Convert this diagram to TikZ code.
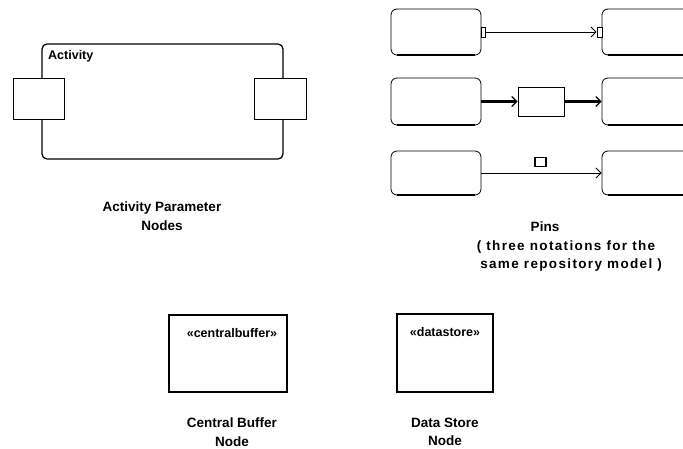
\documentclass[tikz,border=0pt]{standalone}
\usepackage{fontspec}
\setmainfont{Liberation Sans}
\usetikzlibrary{arrows.meta}
\begin{document}
\begin{tikzpicture}[x=1pt,y=-1pt,
  lbl/.style={font=\bfseries\fontsize{13.5}{18.5}\selectfont, align=center, inner sep=0},
  small/.style={font=\bfseries\fontsize{12.5}{14}\selectfont, inner sep=0},
  actbox/.style={draw, line width=1.3pt, rounded corners=5pt, inner sep=0},
  parbox/.style={draw, fill=white, line width=0.9pt, inner sep=0},
  pinact/.style={draw, line width=0.8pt, rounded corners=6pt, inner sep=0, minimum width=90pt, minimum height=46pt},
  shadowline/.style={line width=2.2pt},
  pin/.style={draw, fill=white, line width=0.9pt, inner sep=0},
  flow/.style={line width=0.9pt, -{Straight Barb[length=5pt,width=10pt]}},
  thickflow/.style={line width=2.6pt, -{Straight Barb[length=5pt,width=10pt,line width=1.2pt]}},
  store/.style={draw, line width=1.6pt, inner sep=0}
]
\useasboundingbox (0,0) rectangle (683,449);
\clip (0,0) rectangle (683,449);

% Activity with parameter nodes
\node[actbox, minimum width=241pt, minimum height=115pt] (act) at (162.5,101.5) {};
\node[small, anchor=base west] (actlbl) at (48,60) {Activity};
\node[parbox, minimum width=51pt, minimum height=41pt] (pin1) at (38.5,98.5) {};
\node[parbox, minimum width=52pt, minimum height=41pt] (pin2) at (280,98.5) {};
\node[lbl] (aplbl) at (162,216) {Activity Parameter\\Nodes};

% Pins row 1
\node[pinact] (a1) at (436,32) {};
\node[pinact, minimum width=98pt] (b1) at (651,32) {};
\node[pin, minimum width=4pt, minimum height=10pt] (p1) at (483,32) {};
\node[pin, minimum width=5pt, minimum height=10pt] (q1) at (599.5,32) {};
\draw[flow] (p1.east) -- (q1.west);

% Pins row 2
\node[pinact, minimum height=47pt] (a2) at (436,101.5) {};
\node[pinact, minimum height=47pt, minimum width=98pt] (b2) at (651,101.5) {};
\node[pin, minimum width=46pt, minimum height=29pt] (ob) at (541,101.5) {};
\draw[thickflow] (a2.east) -- (ob.west);
\draw[thickflow] (ob.east) -- (b2.west);

% Pins row 3
\node[pinact, minimum height=44pt] (a3) at (436,173) {};
\node[pinact, minimum height=44pt, minimum width=98pt] (b3) at (651,173) {};
\node[pin, line width=1.3pt, minimum width=11pt, minimum height=9pt] (sq) at (540.5,162) {};
\draw[flow] (a3.east) -- (b3.west);

% thicker bottom edges
\foreach \n in {a1,b1,a2,b2,a3,b3}{
  \draw[shadowline] ([xshift=6pt,yshift=0.3pt]\n.south west) -- ([xshift=-6pt,yshift=0.3pt]\n.south east);
}

\node[lbl] (pinslbl) at (566,247) {Pins\hspace*{42pt}\\\addfontfeature{LetterSpace=10}( three notations for the\\\addfontfeature{LetterSpace=10}\ \ same repository model )};

% Central buffer and data store
\node[store, minimum width=118pt, minimum height=77pt] (cb) at (228,353.5) {};
\node[small] (cbt) at (232,333) {«centralbuffer»};
\node[lbl] (cblbl) at (232,432) {Central Buffer\\Node};

\node[store, minimum width=96pt, minimum height=78pt] (ds) at (445,353) {};
\node[small] (dst) at (445,332) {«datastore»};
\node[lbl] (dslbl) at (445,432) {Data Store\\Node};
\end{tikzpicture}
\end{document}
